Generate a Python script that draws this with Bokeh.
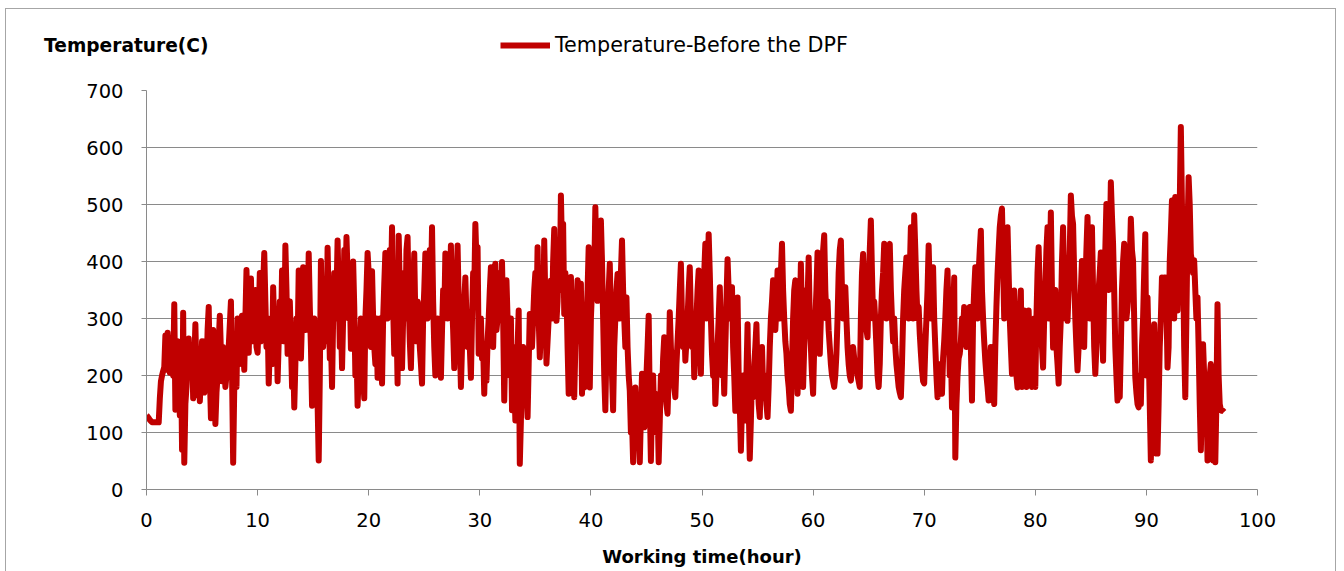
from bokeh.plotting import figure
from bokeh.layouts import column
from bokeh.models import Range1d, Legend, LegendItem, FixedTicker
from bokeh.embed import file_html
from bokeh.resources import INLINE

# ---- data: temperature every 0.1 h, one row per hour ----
temps_by_hour = [
    [130, 128, 125, 122, 120, 118, 118, 118, 118, 118],   # 0 h
    [118, 118, 160, 190, 200, 208, 215, 270, 210, 275],   # 1 h
    [240, 205, 260, 230, 200, 325, 140, 200, 260, 180],   # 2 h
    [130, 250, 70, 310, 47, 150, 180, 230, 265, 210],     # 3 h
    [200, 250, 160, 220, 290, 200, 165, 240, 155, 200],   # 4 h
    [260, 200, 170, 260, 200, 280, 320, 200, 125, 200],   # 5 h
    [280, 180, 115, 170, 200, 260, 305, 240, 190, 250],   # 6 h
    [230, 180, 200, 220, 250, 290, 330, 200, 47, 180],    # 7 h
    [220, 180, 300, 240, 220, 260, 305, 250, 210, 300],   # 8 h
    [385, 300, 240, 330, 370, 280, 260, 300, 350, 250],   # 9 h
    [240, 300, 380, 260, 300, 360, 415, 330, 250, 300],   # 10 h
    [186, 250, 300, 220, 355, 280, 230, 300, 190, 260],   # 11 h
    [330, 260, 384, 300, 260, 428, 350, 238, 300, 330],   # 12 h
    [260, 180, 240, 144, 220, 300, 250, 384, 300, 230],   # 13 h
    [300, 390, 330, 280, 360, 300, 414, 320, 250, 147],   # 14 h
    [220, 300, 260, 200, 150, 51, 200, 401, 300, 250],    # 15 h
    [300, 350, 260, 424, 330, 230, 260, 180, 300, 380],   # 16 h
    [300, 340, 437, 350, 250, 300, 213, 300, 420, 350],   # 17 h
    [443, 380, 300, 350, 247, 300, 400, 320, 200, 250],   # 18 h
    [147, 200, 250, 300, 295, 200, 160, 300, 350, 415],   # 19 h
    [380, 300, 250, 383, 300, 250, 220, 300, 196, 250],   # 20 h
    [300, 240, 186, 300, 360, 415, 330, 300, 380, 420],   # 21 h
    [350, 460, 320, 238, 300, 300, 186, 445, 350, 300],   # 22 h
    [213, 300, 380, 300, 420, 443, 330, 260, 213, 300],   # 23 h
    [350, 414, 300, 260, 330, 312, 250, 220, 186, 300],   # 24 h
    [350, 414, 330, 300, 380, 420, 350, 460, 330, 250],   # 25 h
    [200, 260, 300, 250, 220, 196, 280, 350, 300, 414],   # 26 h
    [350, 300, 380, 350, 428, 330, 280, 213, 300, 350],   # 27 h
    [428, 330, 260, 180, 250, 300, 330, 372, 300, 250],   # 28 h
    [300, 250, 196, 300, 380, 350, 466, 400, 425, 238],   # 29 h
    [260, 300, 230, 250, 168, 250, 191, 260, 300, 350],   # 30 h
    [390, 300, 250, 330, 396, 280, 300, 350, 380, 300],   # 31 h
    [399, 300, 156, 250, 367, 300, 279, 200, 300, 139],   # 32 h
    [250, 200, 121, 200, 250, 314, 45, 120, 200, 250],    # 33 h
    [168, 230, 180, 127, 220, 308, 280, 250, 300, 350],   # 34 h
    [380, 300, 425, 300, 232, 280, 350, 300, 437, 330],   # 35 h
    [221, 260, 300, 350, 367, 300, 400, 457, 350, 296],   # 36 h
    [330, 400, 350, 516, 420, 466, 308, 380, 350, 250],   # 37 h
    [168, 300, 373, 300, 250, 162, 250, 300, 367, 330],   # 38 h
    [300, 361, 168, 250, 179, 250, 300, 350, 425, 179],   # 39 h
    [300, 350, 420, 380, 495, 400, 331, 420, 380, 472],   # 40 h
    [400, 300, 200, 139, 250, 300, 350, 396, 300, 200],   # 41 h
    [139, 250, 300, 350, 378, 330, 300, 380, 437, 350],   # 42 h
    [300, 250, 337, 250, 200, 173, 100, 120, 48, 150],    # 43 h
    [179, 120, 150, 100, 48, 130, 203, 150, 109, 150],    # 44 h
    [200, 250, 305, 150, 50, 150, 200, 120, 168, 100],    # 45 h
    [150, 48, 120, 200, 160, 230, 267, 180, 150, 133],    # 46 h
    [200, 311, 250, 200, 240, 180, 162, 220, 260, 300],   # 47 h
    [350, 396, 300, 250, 300, 226, 260, 300, 350, 390],   # 48 h
    [300, 250, 300, 197, 250, 300, 350, 384, 280, 203],   # 49 h
    [300, 355, 380, 431, 300, 360, 448, 380, 300, 238],   # 50 h
    [200, 250, 150, 200, 250, 300, 355, 280, 200, 250],   # 51 h
    [168, 250, 330, 404, 350, 300, 330, 355, 250, 200],   # 52 h
    [138, 250, 337, 200, 150, 68, 150, 200, 150, 121],    # 53 h
    [200, 290, 150, 54, 120, 200, 162, 220, 250, 290],    # 54 h
    [200, 150, 127, 200, 250, 180, 160, 200, 150, 127],   # 55 h
    [180, 250, 300, 330, 367, 330, 280, 320, 384, 350],   # 56 h
    [300, 380, 431, 350, 300, 260, 238, 200, 180, 150],   # 57 h
    [138, 220, 300, 350, 367, 250, 168, 250, 300, 396],   # 58 h
    [300, 180, 250, 300, 350, 330, 407, 300, 250, 200],   # 59 h
    [168, 250, 300, 350, 416, 300, 238, 300, 380, 420],   # 60 h
    [446, 350, 300, 330, 279, 250, 220, 200, 190, 180],   # 61 h
    [200, 238, 300, 380, 420, 437, 350, 300, 330, 355],   # 62 h
    [300, 250, 220, 200, 191, 220, 250, 230, 210, 220],   # 63 h
    [200, 190, 180, 300, 380, 413, 350, 300, 280, 267],   # 64 h
    [350, 420, 472, 380, 300, 330, 296, 250, 200, 180],   # 65 h
    [220, 300, 350, 380, 431, 350, 300, 380, 420, 431],   # 66 h
    [350, 300, 260, 300, 250, 220, 200, 180, 170, 162],   # 67 h
    [220, 300, 350, 380, 407, 350, 300, 380, 460, 380],   # 68 h
    [300, 481, 420, 350, 300, 320, 273, 240, 210, 190],   # 69 h
    [186, 250, 300, 350, 428, 350, 300, 350, 390, 300],   # 70 h
    [250, 200, 162, 220, 180, 200, 168, 230, 260, 300],   # 71 h
    [350, 384, 300, 200, 250, 144, 300, 372, 56, 150],    # 72 h
    [200, 230, 238, 260, 300, 280, 320, 300, 250, 280],   # 73 h
    [300, 320, 250, 156, 300, 350, 390, 350, 300, 380],   # 74 h
    [420, 454, 350, 300, 260, 226, 200, 180, 156, 200],   # 75 h
    [250, 200, 180, 150, 250, 320, 378, 420, 460, 480],   # 76 h
    [493, 400, 300, 380, 420, 460, 380, 300, 250, 203],   # 77 h
    [300, 349, 250, 200, 179, 250, 300, 349, 180, 250],   # 78 h
    [314, 250, 180, 250, 314, 250, 200, 180, 250, 300],   # 79 h
    [180, 300, 380, 425, 350, 280, 250, 214, 300, 350],   # 80 h
    [420, 460, 300, 380, 486, 350, 249, 300, 350, 250],   # 81 h
    [220, 186, 250, 300, 400, 460, 350, 300, 350, 296],   # 82 h
    [350, 420, 516, 480, 466, 380, 300, 250, 209, 250],   # 83 h
    [300, 350, 401, 330, 250, 350, 420, 478, 380, 300],   # 84 h
    [380, 460, 350, 250, 203, 250, 300, 350, 380, 416],   # 85 h
    [300, 226, 350, 420, 501, 450, 350, 420, 539, 480],   # 86 h
    [431, 350, 250, 200, 156, 180, 162, 250, 350, 400],   # 87 h
    [431, 350, 300, 320, 350, 400, 475, 420, 401, 300],   # 88 h
    [197, 170, 150, 144, 200, 150, 250, 300, 380, 448],   # 89 h
    [200, 337, 250, 150, 51, 150, 200, 290, 150, 63],     # 90 h
    [63, 150, 250, 300, 372, 350, 372, 372, 330, 214],    # 91 h
    [250, 400, 450, 507, 400, 300, 513, 420, 314, 400],   # 92 h
    [500, 636, 500, 402, 250, 162, 300, 450, 548, 500],   # 93 h
    [413, 400, 380, 402, 350, 300, 337, 250, 150, 69],    # 94 h
    [150, 255, 200, 150, 200, 51, 150, 200, 220, 180],    # 95 h
    [51, 120, 48, 150, 325, 200, 150, 140, 138, 138],     # 96 h
    [136],                                                # 97 h
]
x_ticks = [0, 10, 20, 30, 40, 50, 60, 70, 80, 90, 100]
y_ticks = [0, 100, 200, 300, 400, 500, 600, 700]
series_name = "Temperature-Before the DPF"
y_title = "Temperature(C)"
x_title = "Working time(hour)"

hours, temps = [], []
for h, row in enumerate(temps_by_hour):
    for k, v in enumerate(row):
        hours.append(h + k / 10)
        temps.append(v)

FONT = "DejaVu Sans"
RED = "#C00000"
GRID = "#8a8a8a"
W = 1329          # inner width of the framed chart box
LEFT = 140        # left border of the plot area inside the box
HEAD_H = 59       # header strip (y title + legend)
MAIN_H = 503
TITLE_Y = HEAD_H - 36

# ---------- header strip: y title (as a left-side guide text) + legend ----------
head = figure(width=W, height=HEAD_H, output_backend="svg", toolbar_location=None,
              x_range=Range1d(0, 1111), y_range=Range1d(0, HEAD_H),
              x_axis_location=None, y_axis_location="left", min_border=0,
              min_border_left=LEFT, min_border_right=W - LEFT - 1111)
head.grid.visible = False
head.outline_line_color = None
head.border_fill_color = "white"
head.background_fill_color = "white"

ya = head.yaxis[0]
ya.ticker = FixedTicker(ticks=[TITLE_Y])
ya.major_label_overrides = {TITLE_Y: y_title}
ya.axis_line_color = None
ya.major_tick_line_color = None
ya.minor_tick_line_color = None
ya.major_tick_in = 0
ya.major_tick_out = 0
ya.major_label_standoff = -62
ya.major_label_text_font = FONT
ya.major_label_text_font_style = "bold"
ya.major_label_text_font_size = "18.6px"
ya.major_label_text_color = "#000000"

legend_glyph = head.line([float("nan")], [float("nan")], line_color=RED, line_width=6)
legend = Legend(items=[LegendItem(label=series_name, renderers=[legend_glyph])],
                location=(500 - 146, 11), orientation="horizontal",
                glyph_width=50, glyph_height=22, label_standoff=5,
                padding=0, margin=0, border_line_color=None,
                background_fill_alpha=0,
                label_text_font=FONT, label_text_font_size="20.7px",
                label_text_color="#000000")
head.add_layout(legend, "center")

# ---------- main chart ----------
p = figure(width=W, height=MAIN_H, output_backend="svg", toolbar_location=None,
           x_range=Range1d(0, 100), y_range=Range1d(0, 700),
           min_border_left=LEFT, min_border_right=W - LEFT - 1111, min_border_top=22,
           min_border_bottom=82)
p.outline_line_color = None
p.background_fill_color = "white"
p.border_fill_color = "white"

line = p.line(hours, temps, line_color=RED, line_width=6, line_join="round",
              legend_label=series_name)
p.legend.visible = False

p.xaxis.ticker = FixedTicker(ticks=x_ticks)
p.yaxis.ticker = FixedTicker(ticks=y_ticks)
for ax in (p.xaxis[0], p.yaxis[0]):
    ax.axis_line_color = GRID
    ax.major_tick_line_color = GRID
    ax.minor_tick_line_color = None
    ax.major_tick_in = 0
    ax.major_label_text_font = FONT
    ax.major_label_text_font_size = "19.5px"
    ax.major_label_text_color = "#000000"
p.xaxis.major_tick_out = 6
p.xaxis.major_label_standoff = 17
p.yaxis.major_tick_out = 5
p.yaxis.major_label_standoff = 18

p.xaxis.axis_label = x_title
p.xaxis.axis_label_text_font = FONT
p.xaxis.axis_label_text_font_style = "bold"
p.xaxis.axis_label_text_font_size = "18px"
p.xaxis.axis_label_text_color = "#000000"
p.xaxis.axis_label_standoff = 16

p.xgrid.grid_line_color = None
p.ygrid.grid_line_color = GRID
p.ygrid.grid_line_width = 1.2

layout = column(head, p, spacing=0)
layout.margin = (8, 8, 0, 5)
layout.styles = {"border-top": "1px solid #a6a6a6", "border-left": "1px solid #a6a6a6",
                 "border-right": "1px solid #a6a6a6", "box-sizing": "content-box"}

open("out.html", "w").write(file_html(layout, INLINE))
